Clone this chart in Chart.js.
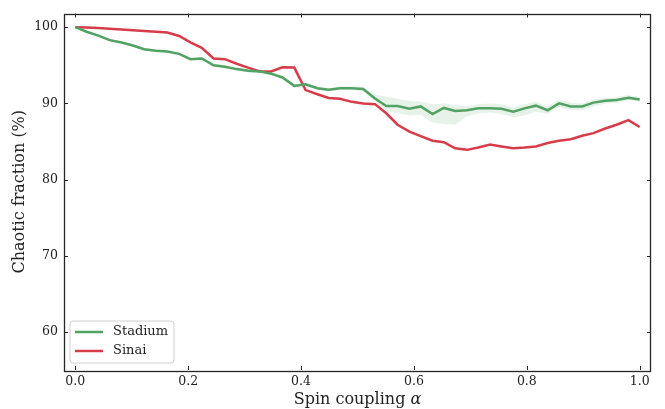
<!DOCTYPE html>
<html><head><meta charset="utf-8">
<script src="https://cdn.jsdelivr.net/npm/chart.js@4"></script>
<style>html,body{margin:0;padding:0;background:#fff}#wrap{width:665px;height:409px;position:relative}</style>
</head><body><div id="wrap"><canvas id="c"></canvas></div>
<script>
const alpha = [0, 0.020, 0.041, 0.061, 0.082, 0.102, 0.122, 0.143, 0.163, 0.184, 0.204, 0.224, 0.245, 0.265, 0.286, 0.306, 0.327, 0.347, 0.367, 0.388, 0.408, 0.429, 0.449, 0.469, 0.490, 0.510, 0.531, 0.551, 0.571, 0.592, 0.612, 0.633, 0.653, 0.673, 0.694, 0.714, 0.735, 0.755, 0.776, 0.796, 0.816, 0.837, 0.857, 0.878, 0.898, 0.918, 0.939, 0.959, 0.980, 1.000];
const stadium = [100.0, 99.4, 98.9, 98.3, 98.0, 97.6, 97.1, 96.9, 96.8, 96.5, 95.8, 95.9, 95.0, 94.8, 94.5, 94.3, 94.2, 93.9, 93.4, 92.3, 92.5, 92.0, 91.8, 92.0, 92.0, 91.9, 90.65, 89.65, 89.65, 89.3, 89.6, 88.6, 89.4, 89.0, 89.1, 89.35, 89.35, 89.3, 88.9, 89.35, 89.7, 89.1, 90.0, 89.6, 89.6, 90.1, 90.35, 90.45, 90.75, 90.5];
const stadiumHigh = [100.1, 99.55, 99.05, 98.45, 98.15, 97.75, 97.25, 97.05, 96.95, 96.65, 95.95, 96.1, 95.2, 95.0, 94.7, 94.5, 94.4, 94.1, 93.6, 92.5, 92.7, 92.2, 92.0, 92.2, 92.2, 92.2, 91.1, 90.9, 90.6, 90.3, 90.2, 89.9, 90.0, 89.8, 89.6, 89.9, 90.0, 89.9, 89.5, 89.9, 90.2, 89.6, 90.5, 90.1, 90.0, 90.5, 90.7, 90.8, 91.1, 90.8];
const stadiumLow = [99.9, 99.25, 98.75, 98.15, 97.85, 97.45, 96.95, 96.75, 96.65, 96.35, 95.65, 95.7, 94.8, 94.6, 94.3, 94.1, 94.0, 93.7, 93.2, 92.1, 92.3, 91.8, 91.6, 91.8, 91.8, 91.6, 90.3, 89.0, 88.7, 88.4, 88.5, 87.5, 87.3, 87.2, 88.3, 88.7, 88.8, 88.6, 88.2, 88.4, 88.9, 88.6, 89.5, 89.1, 89.1, 89.6, 90.0, 90.1, 90.4, 90.2];
const sinai = [100.0, 99.95, 99.9, 99.8, 99.7, 99.6, 99.5, 99.4, 99.3, 98.85, 98.0, 97.3, 95.9, 95.8, 95.2, 94.7, 94.2, 94.2, 94.75, 94.7, 91.75, 91.2, 90.7, 90.6, 90.2, 90.0, 89.9, 88.7, 87.2, 86.3, 85.7, 85.1, 84.9, 84.1, 83.9, 84.2, 84.6, 84.35, 84.1, 84.2, 84.35, 84.8, 85.1, 85.3, 85.75, 86.1, 86.7, 87.2, 87.8, 86.9];
const xTicks = [0, 0.2, 0.4, 0.6, 0.8, 1.0];
const yTicks = [60, 70, 80, 90, 100];
const seriesNames = ['Stadium', 'Sinai'];

const GREEN = '#52a264', RED = '#d63c49';
const FONT = "'DejaVu Serif', 'Liberation Serif', serif";
const pts = ys => alpha.map((a, i) => ({x: a, y: ys[i]}));

const deco = {
  id: 'deco',
  afterDatasetsDraw(chart) {
    const {ctx, chartArea: a, scales: {x, y}} = chart;
    ctx.save();
    ctx.strokeStyle = '#262626';
    ctx.lineWidth = 1;
    xTicks.forEach(v => {
      const p = Math.round(x.getPixelForValue(v)) + 0.5;
      ctx.beginPath();
      ctx.moveTo(p, a.bottom); ctx.lineTo(p, a.bottom - 4);
      ctx.moveTo(p, a.top); ctx.lineTo(p, a.top + 4);
      ctx.stroke();
    });
    yTicks.forEach(v => {
      const p = Math.round(y.getPixelForValue(v)) + 0.5;
      ctx.beginPath();
      ctx.moveTo(a.left, p); ctx.lineTo(a.left + 4, p);
      ctx.moveTo(a.right, p); ctx.lineTo(a.right - 4, p);
      ctx.stroke();
    });
    ctx.lineWidth = 1.3;
    ctx.strokeRect(Math.round(a.left) + 0.5, Math.round(a.top) + 0.5, Math.round(a.right - a.left) - 1, Math.round(a.bottom - a.top));

    // legend
    const lx = 70, ly = 321, lw = 104, lh = 42, r = 3;
    ctx.beginPath();
    ctx.moveTo(lx + r, ly); ctx.lineTo(lx + lw - r, ly); ctx.arcTo(lx + lw, ly, lx + lw, ly + r, r);
    ctx.lineTo(lx + lw, ly + lh - r); ctx.arcTo(lx + lw, ly + lh, lx + lw - r, ly + lh, r);
    ctx.lineTo(lx + r, ly + lh); ctx.arcTo(lx, ly + lh, lx, ly + lh - r, r);
    ctx.lineTo(lx, ly + r); ctx.arcTo(lx, ly, lx + r, ly, r);
    ctx.closePath();
    ctx.fillStyle = 'rgba(255,255,255,0.85)';
    ctx.fill();
    ctx.strokeStyle = '#d0d0d0'; ctx.lineWidth = 1; ctx.stroke();
    const cols = [GREEN, RED];
    seriesNames.forEach((n, i) => {
      const yy = 332 + i * 19;
      ctx.strokeStyle = cols[i]; ctx.lineWidth = 2.5;
      ctx.beginPath(); ctx.moveTo(75, yy); ctx.lineTo(103, yy); ctx.stroke();
      ctx.fillStyle = '#222'; ctx.font = '13px ' + FONT;
      ctx.textAlign = 'left'; ctx.textBaseline = 'middle';
      ctx.fillText(n, 113, yy);
    });

    // axis titles
    ctx.fillStyle = '#222';
    ctx.textBaseline = 'middle';
    const t1 = 'Spin coupling ';
    ctx.font = '16px ' + FONT;
    const w1 = ctx.measureText(t1).width;
    ctx.font = 'italic 16px ' + FONT;
    const w2 = ctx.measureText('α').width;
    const cx = (a.left + a.right) / 2;
    let sx = cx - (w1 + w2) / 2;
    ctx.textAlign = 'left';
    ctx.font = '16px ' + FONT;
    ctx.fillText(t1, sx, 400);
    ctx.font = 'italic 16px ' + FONT;
    ctx.fillText('α', sx + w1, 400);

    ctx.translate(20, (a.top + a.bottom) / 2);
    ctx.rotate(-Math.PI / 2);
    ctx.textAlign = 'center';
    ctx.font = '16px ' + FONT;
    ctx.fillText('Chaotic fraction (%)', 0, 0);
    ctx.restore();
  }
};

new Chart(document.getElementById('c'), {
  type: 'line',
  data: {
    datasets: [
      {label: 'band-high', data: pts(stadiumHigh), borderWidth: 0, pointRadius: 0, fill: '+1', backgroundColor: 'rgba(82,162,100,0.14)', tension: 0},
      {label: 'band-low', data: pts(stadiumLow), borderWidth: 0, pointRadius: 0, fill: false, tension: 0},
      {label: seriesNames[0], data: pts(stadium), borderColor: GREEN, borderWidth: 2.5, pointRadius: 0, fill: false, tension: 0},
      {label: seriesNames[1], data: pts(sinai), borderColor: RED, borderWidth: 2.5, pointRadius: 0, fill: false, tension: 0}
    ]
  },
  options: {
    responsive: true, maintainAspectRatio: false, animation: false,
    layout: {padding: {left: 0, top: 11, right: 14, bottom: 0}},
    plugins: {legend: {display: false}, tooltip: {enabled: false}},
    scales: {
      x: {
        type: 'linear', min: -0.02, max: 1.02,
        grid: {display: false, drawTicks: false}, border: {display: false},
        afterBuildTicks: s => { s.ticks = xTicks.map(v => ({value: v})); },
        afterFit: s => { s.height = 39; },
        ticks: {padding: 4, color: '#222', font: {family: FONT, size: 12.5}, callback: v => v.toFixed(1), maxRotation: 0, autoSkip: false}
      },
      y: {
        type: 'linear', min: 55, max: 101.8,
        grid: {display: false, drawTicks: false}, border: {display: false},
        afterBuildTicks: s => { s.ticks = yTicks.map(v => ({value: v})); },
        afterFit: s => { s.width = 64; },
        ticks: {padding: 6, color: '#222', font: {family: FONT, size: 12.5}, callback: v => String(v), autoSkip: false}
      }
    }
  },
  plugins: [deco]
});
</script>
</body></html>
